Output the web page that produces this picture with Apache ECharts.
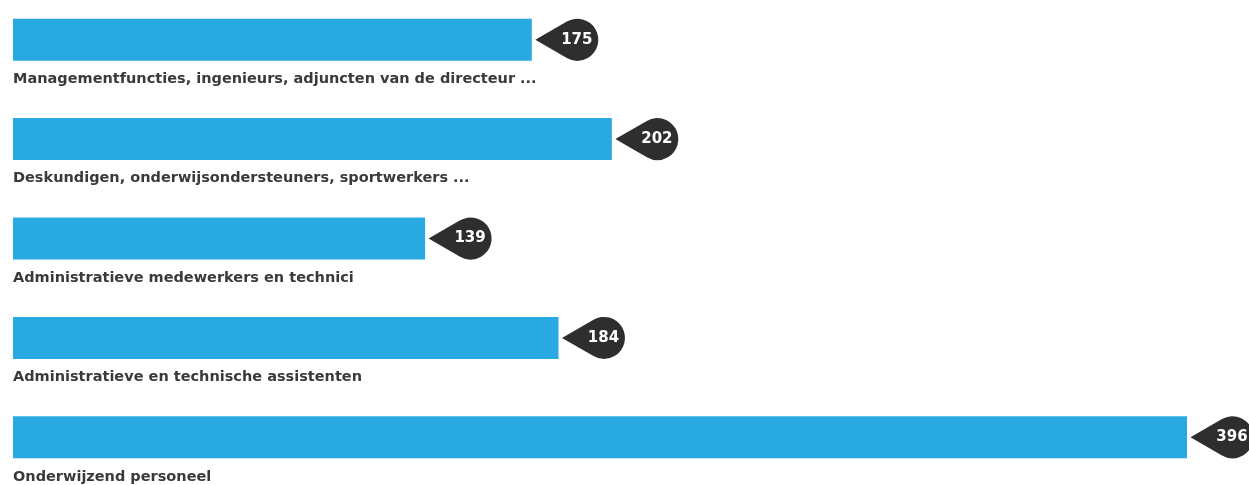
<!DOCTYPE html>
<html>
<head>
<meta charset="utf-8">
<script src="https://cdn.jsdelivr.net/npm/echarts@6/dist/echarts.min.js"></script>
<style>
  html, body { margin: 0; padding: 0; background: #fff; }
  #chart { width: 1249px; height: 485px; }
</style>
</head>
<body>
<div id="chart"></div>
<script>
var categories = [
    'Managementfuncties, ingenieurs, adjuncten van de directeur ...',
    'Deskundigen, onderwijsondersteuners, sportwerkers ...',
    'Administratieve medewerkers en technici',
    'Administratieve en technische assistenten',
    'Onderwijzend personeel'
];
var values = [175, 202, 139, 184, 396];

// teardrop pointing left: tip at (-2,0), circle of radius 1 round (0,0)
var dropPath = 'path://M-2,0 L-0.5,-0.866 A1,1 0 1,1 -0.5,0.866 Z';

var option = {
    animation: false,
    backgroundColor: '#ffffff',
    grid: {
        left: 13,
        right: 62,
        top: -10,
        height: 497,
        outerBoundsMode: 'none',
        containLabel: false
    },
    xAxis: {
        type: 'value',
        min: 0,
        max: 396,
        show: false
    },
    yAxis: {
        type: 'category',
        inverse: true,
        data: categories,
        show: false
    },
    series: [
        {
            type: 'bar',
            data: values,
            barWidth: 42,
            itemStyle: { color: '#29a9e1' },
            label: {
                show: true,
                position: [0, '100%'],
                offset: [0, 11],
                formatter: function (p) { return categories[p.dataIndex]; },
                color: '#3a3a3a',
                fontFamily: 'DejaVu Sans',
                fontWeight: 'bold',
                fontSize: 14.5
            },
            z: 2
        },
        {
            type: 'scatter',
            data: values,
            symbol: dropPath,
            symbolSize: [63, 42],
            symbolOffset: [35, 0],
            itemStyle: { color: '#2e2e2e', opacity: 1 },
            label: {
                show: true,
                position: 'inside',
                offset: [10, 0],
                color: '#ffffff',
                fontFamily: 'DejaVu Sans',
                fontWeight: 'bold',
                fontSize: 15,
                formatter: function (p) { return p.value; }
            },
            z: 3
        }
    ]
};
var myChart = echarts.init(document.getElementById('chart'));
myChart.setOption(option);
</script>
</body>
</html>
